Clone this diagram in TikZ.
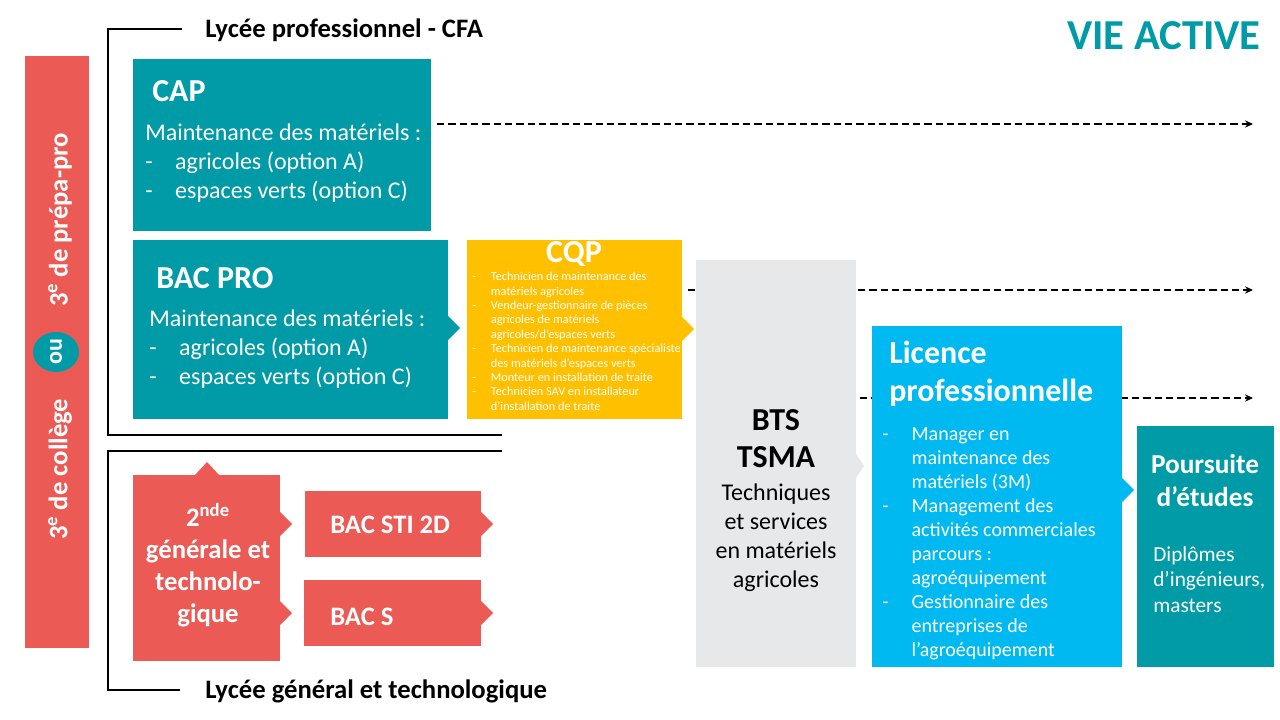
\documentclass[tikz,border=0pt]{standalone}
\usepackage{amsmath}
\usepackage{fontspec}
\setmainfont{Carlito}
\usetikzlibrary{arrows.meta,shapes.geometric}
\definecolor{vtteal}{RGB}{0,155,166}
\definecolor{vtcoral}{RGB}{235,90,85}
\definecolor{vtamber}{RGB}{255,192,0}
\definecolor{vtsky}{RGB}{0,185,240}
\definecolor{vtgrey}{RGB}{231,232,234}
\newcommand{\fsize}[2]{\fontsize{#1}{#2}\selectfont}
\newcommand{\lidash}[2]{\makebox[#1][l]{-}#2}
\newcommand{\licont}[2]{\hspace*{#1}#2}
\tikzset{
    boxnode/.style={anchor=north west, inner sep=0pt, outer sep=0pt},
    tealbox/.style={boxnode, fill=vtteal},
    coralbox/.style={boxnode, fill=vtcoral},
    txt/.style={anchor=north west, inner sep=0pt, text=white, align=left},
    ctxt/.style={anchor=north, inner sep=0pt, text=white, align=center},
    lycee/.style={anchor=west, inner sep=0pt, font=\fsize{20}{24}\bfseries},
    frameline/.style={line width=1.5pt},
    lifeline/.style={line width=1.1pt, dash pattern=on 5.5pt off 3pt, -{Stealth[length=6pt,width=5.5pt]}}
}

\begin{document}
\begin{tikzpicture}[x=0.75pt, y=-0.75pt]
    \useasboundingbox (0,0) rectangle (1280,720);
    % frames around the two kinds of lycee
    \node[lycee] (lpro) at (205,30) {Lycée professionnel - CFA};
    \node[lycee] (lgen) at (205,691) {Lycée général et technologique};
    \coordinate (lprostart) at (182,29);
    \coordinate (lproend) at (502,435);
    \coordinate (lgenstart) at (502,451);
    \coordinate (lgenend) at (180,690);
    \draw[frameline] (lprostart) -- (108,29) -- (108,435) -- (lproend);
    \draw[frameline] (lgenstart) -- (108,451) -- (108,690) -- (lgenend);
    \node[anchor=east, inner sep=0pt, text=vtteal, font=\fsize{32}{38}\bfseries] (vie) at (1261,36) {VIE ACTIVE};
    % boxes
    \node[tealbox, minimum width=298*0.75pt, minimum height=172*0.75pt] (capbox) at (133,59) {};
    \node[tealbox, minimum width=315*0.75pt, minimum height=179*0.75pt] (probox) at (133,240) {};
    \node[boxnode, fill=vtamber, minimum width=215*0.75pt, minimum height=179*0.75pt] (cqpbox) at (467,240) {};
    % ends of the dashed arrows
    \coordinate (capend) at (1253,124);
    \coordinate (cqpend) at (1253,290);
    \coordinate (btsend) at (1253,398);
    \draw[lifeline, shorten <=4.5pt] (capbox.east |- capend) -- (capend);
    \draw[lifeline, shorten <=4.5pt] (cqpbox.east |- cqpend) -- (cqpend);
    \node[boxnode, fill=vtgrey, minimum width=160*0.75pt, minimum height=407*0.75pt] (btsbox) at (696,260) {};
    \draw[lifeline, shorten <=3pt] (btsbox.east |- btsend) -- (btsend);
    \node[boxnode, fill=vtsky, minimum width=250*0.75pt, minimum height=341*0.75pt] (licbox) at (872,326) {};
    \node[tealbox, minimum width=137*0.75pt, minimum height=241*0.75pt] (etubox) at (1137,426) {};
    \node[coralbox, minimum width=64*0.75pt, minimum height=592*0.75pt] (colbox) at (25,56) {};
    \node[coralbox, minimum width=147*0.75pt, minimum height=186*0.75pt] (ndebox) at (133,475) {};
    \node[coralbox, minimum width=176*0.75pt, minimum height=66*0.75pt] (stibox) at (305,491) {};
    \node[coralbox, minimum width=177*0.75pt, minimum height=66*0.75pt] (sbox) at (304,580) {};
    % little tips on the sides of the boxes
    \foreach \tx/\ty/\tcol in {448/328/vtteal, 682/329/vtamber, 1122/490/vtsky, 280/524/vtcoral, 280/613/vtcoral, 481/524/vtcoral, 481/613/vtcoral} {
        \fill[\tcol] (\tx,\ty-12) -- (\tx+12,\ty) -- (\tx,\ty+12) -- cycle;
    }
    \fill[vtgrey] (856,454) -- (864,466) -- (856,478) -- cycle;
    \fill[vtcoral] (195,475) -- (207,462) -- (219,475) -- cycle;
    % left bar
    \node[ellipse, fill=vtteal, minimum width=46*0.75pt, minimum height=40*0.75pt, inner sep=0pt] (ouel) at (56,352) {};
    \node[rotate=90, text=white, font=\fsize{18}{22}] (ou) at (ouel) {\textbf{ou}};
    \node[rotate=90, anchor=west, inner sep=0pt, text=white, font=\fsize{20}{24}\bfseries] (prepa) at (60,307) {3\textsuperscript{e} de prépa-pro};
    \node[rotate=90, anchor=west, inner sep=0pt, text=white, font=\fsize{20}{24}\bfseries] (college) at (60,540) {3\textsuperscript{e} de collège};
    % texts
    \node[txt, font=\fsize{24}{28}\bfseries] (captitle) at (152,80) {CAP};
    \node[txt, font=\fsize{18}{21.75}] (captext) at (145,124) {Maintenance des matériels :\\\lidash{22.5pt}{agricoles (option A)}\\\lidash{22.5pt}{espaces verts (option C)}};
    \node[txt, font=\fsize{24}{28}\bfseries] (protitle) at (156,267) {BAC PRO};
    \node[txt, font=\fsize{18}{21.75}] (protext) at (149,310) {Maintenance des matériels :\\\lidash{22.5pt}{agricoles (option A)}\\\lidash{22.5pt}{espaces verts (option C)}};
    \node[anchor=north, inner sep=0pt, text=white, font=\fsize{24}{28}\bfseries] (cqptitle) at (574,241) {CQP};
    \node[txt, font=\fsize{9.2}{10.8}] (cqptext) at (472,272) {\lidash{14pt}{Technicien de maintenance des}\\\licont{14pt}{matériels agricoles}\\\lidash{14pt}{Vendeur-gestionnaire de pièces}\\\licont{14pt}{agricoles de matériels}\\\licont{14pt}{agricoles/d’espaces verts}\\\lidash{14pt}{Technicien de maintenance spécialiste}\\\licont{14pt}{des matériels d’espaces verts}\\\lidash{14pt}{Monteur en installation de traite}\\\lidash{14pt}{Technicien SAV en installateur}\\\licont{14pt}{d’installation de traite}};
    \node[ctxt, text=black, font=\fsize{24}{28}\bfseries] (btstitle) at (776,409) {BTS\\TSMA};
    \node[ctxt, text=black, font=\fsize{18}{21.75}] (btstext) at (776,484) {Techniques\\et services\\en matériels\\agricoles};
    \node[txt, font=\fsize{24}{28.5}\bfseries] (lictitle) at (889,341) {Licence\\professionnelle};
    \node[txt, font=\fsize{15}{18}] (lictext) at (882,427) {\lidash{22pt}{Manager en}\\\licont{22pt}{maintenance des}\\\licont{22pt}{matériels (3M)}\\\lidash{22pt}{Management des}\\\licont{22pt}{activités commerciales}\\\licont{22pt}{parcours :}\\\licont{22pt}{agroéquipement}\\\lidash{22pt}{Gestionnaire des}\\\licont{22pt}{entreprises de}\\\licont{22pt}{l’agroéquipement}};
    \node[ctxt, font=\fsize{20.5}{24.7}\bfseries] (etutitle) at (1205,454) {Poursuite\\d’études};
    \node[txt, font=\fsize{16}{19.2}] (etutext) at (1153,546) {Diplômes\\d’ingénieurs,\\masters};
    \node[ctxt, font=\fsize{20}{24}\bfseries] (ndetext) at (208,503) {2\textsuperscript{nde}\\générale et\\technolo-\\gique};
    \node[anchor=west, inner sep=0pt, text=white, font=\fsize{20}{24}\bfseries] (stitext) at (330,525) {BAC STI 2D};
    \node[anchor=west, inner sep=0pt, text=white, font=\fsize{20}{24}\bfseries] (stext) at (330,617) {BAC S};
\end{tikzpicture}
\end{document}
